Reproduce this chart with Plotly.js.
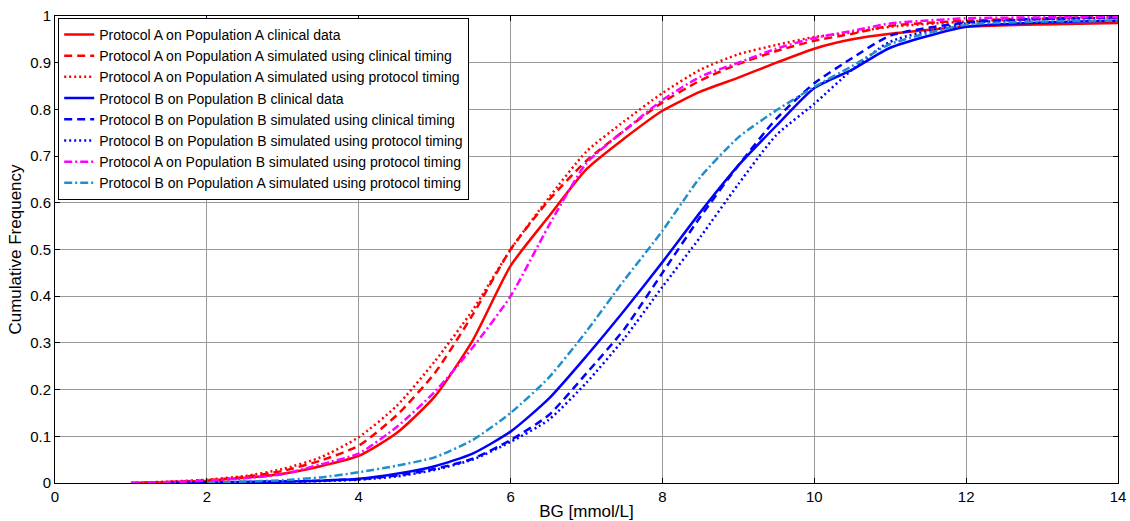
<!DOCTYPE html>
<html>
<head>
<meta charset="utf-8">
<script src="https://cdn.plot.ly/plotly-3.0.1.min.js"></script>
<style>
html,body{margin:0;padding:0;background:#fff;}
#chart{width:1130px;height:521px;}
</style>
</head>
<body>
<div id="chart"></div>
<script>
// BG values (mmol/L) at which the cumulative frequencies were read
const bg = [1, 1.5, 2, 2.5, 3, 3.5, 4, 4.5, 5, 5.5, 6, 6.5, 7, 7.5, 8, 8.5, 9, 9.5, 10, 10.5, 11, 12, 13, 14];

const aClinical   = [0, 0.002, 0.005, 0.011, 0.020, 0.036, 0.058, 0.107, 0.185, 0.305, 0.465, 0.570, 0.672, 0.738, 0.797, 0.838, 0.868, 0.900, 0.930, 0.950, 0.962, 0.977, 0.982, 0.985];
const aSimClin    = [0, 0.002, 0.006, 0.013, 0.026, 0.048, 0.080, 0.145, 0.235, 0.360, 0.500, 0.605, 0.690, 0.755, 0.815, 0.862, 0.897, 0.925, 0.947, 0.962, 0.979, 0.990, 0.995, 0.998];
const aSimProt    = [0, 0.003, 0.007, 0.015, 0.030, 0.055, 0.098, 0.165, 0.260, 0.370, 0.500, 0.610, 0.710, 0.775, 0.835, 0.885, 0.918, 0.938, 0.955, 0.965, 0.977, 0.988, 0.994, 0.997];
const bClinical   = [null, 0, 0.001, 0.002, 0.003, 0.005, 0.009, 0.020, 0.036, 0.063, 0.110, 0.180, 0.272, 0.370, 0.473, 0.580, 0.680, 0.765, 0.846, 0.885, 0.932, 0.977, 0.986, 0.990];
const bSimClin    = [null, 0, 0.001, 0.002, 0.003, 0.005, 0.008, 0.016, 0.030, 0.052, 0.092, 0.145, 0.235, 0.330, 0.450, 0.570, 0.680, 0.780, 0.856, 0.910, 0.958, 0.986, 0.994, 0.997];
const bSimProt    = [null, 0, 0.001, 0.002, 0.003, 0.004, 0.007, 0.014, 0.028, 0.050, 0.088, 0.135, 0.215, 0.310, 0.420, 0.527, 0.640, 0.745, 0.812, 0.885, 0.945, 0.984, 0.993, 0.996];
const aOnBProt    = [0, 0.002, 0.005, 0.010, 0.019, 0.040, 0.063, 0.120, 0.195, 0.290, 0.400, 0.550, 0.685, 0.755, 0.820, 0.870, 0.900, 0.930, 0.953, 0.968, 0.984, 0.995, 0.997, 0.998];
const bOnAProt    = [null, null, 0.001, 0.003, 0.006, 0.012, 0.023, 0.037, 0.055, 0.092, 0.150, 0.225, 0.325, 0.435, 0.540, 0.655, 0.740, 0.798, 0.848, 0.893, 0.940, 0.981, 0.988, 0.990];

const names = [
  'Protocol A on Population A clinical data',
  'Protocol A on Population A simulated using clinical timing',
  'Protocol A on Population A simulated using protocol timing',
  'Protocol B on Population B clinical data',
  'Protocol B on Population B simulated using clinical timing',
  'Protocol B on Population B simulated using protocol timing',
  'Protocol A on Population B simulated using protocol timing',
  'Protocol B on Population A simulated using protocol timing'
];
const series = [aClinical, aSimClin, aSimProt, bClinical, bSimClin, bSimProt, aOnBProt, bOnAProt];
const colors = ['#ff0000', '#ff0000', '#ff0000', '#0000ff', '#0000ff', '#0000ff', '#ff00ff', '#1f8fcc'];
const dashes = ['solid', '8px,5px', '2px,3px', 'solid', '8px,5px', '2px,3px', '8px,3px,2px,3px', '8px,3px,2px,3px'];

const traces = series.map((ys, i) => ({
  type: 'scatter',
  mode: 'lines',
  x: bg,
  y: ys,
  name: names[i],
  connectgaps: false,
  line: {color: colors[i], dash: dashes[i], width: 2.5, shape: 'spline', smoothing: 0.6}
}));

const font = {family: 'Liberation Sans, Arial, sans-serif', color: '#000'};

const axisCommon = {
  showline: true, linecolor: '#000', linewidth: 1, mirror: 'ticks',
  ticks: 'inside', ticklen: 5, tickcolor: '#000',
  showgrid: true, gridcolor: '#999999', gridwidth: 1,
  zeroline: false,
  tickfont: Object.assign({size: 15}, font)
};

const layout = {
  width: 1130, height: 521,
  margin: {l: 55, r: 12, t: 16, b: 38},
  paper_bgcolor: '#fff', plot_bgcolor: '#fff',
  font: font,
  showlegend: true,
  legend: {
    x: 0.003, y: 0.996, xanchor: 'left', yanchor: 'top',
    bgcolor: '#fff', bordercolor: '#000', borderwidth: 1,
    font: Object.assign({size: 14}, font),
    itemwidth: 30
  },
  xaxis: Object.assign({}, axisCommon, {
    range: [0, 14], dtick: 2, tick0: 0,
    title: {text: 'BG [mmol/L]', font: Object.assign({size: 17}, font), standoff: 2}
  }),
  yaxis: Object.assign({}, axisCommon, {
    range: [0, 1], dtick: 0.1, tick0: 0,
    title: {text: 'Cumulative Frequency', font: Object.assign({size: 17}, font), standoff: 4}
  })
};

Plotly.newPlot('chart', traces, layout, {displayModeBar: false, staticPlot: true});
</script>
</body>
</html>
